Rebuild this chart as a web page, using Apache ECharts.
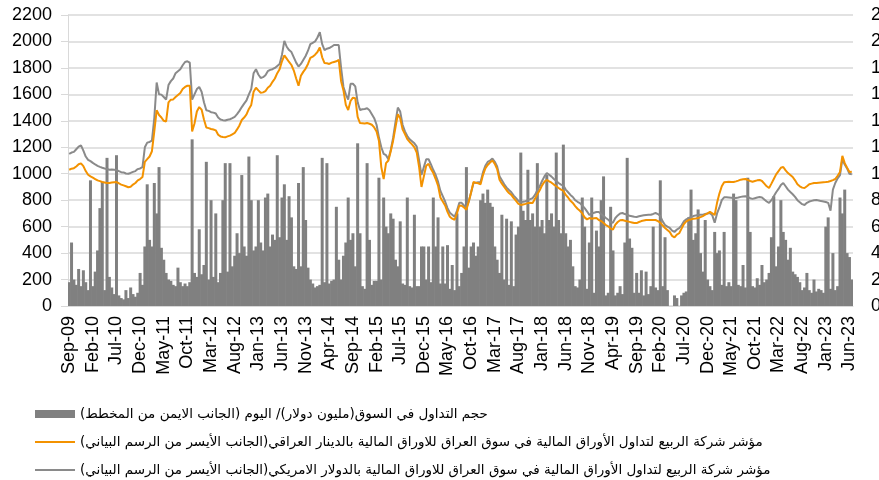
<!DOCTYPE html>
<html>
<head>
<meta charset="utf-8">
<script src="https://cdn.jsdelivr.net/npm/echarts@6/dist/echarts.min.js"></script>
<style>
  html, body { margin: 0; padding: 0; background: #fff; }
  #chart { width: 879px; height: 480px; }
</style>
</head>
<body>
<div id="chart"></div>
<script>
// month labels Sep-09 .. Jun-23, two points per month (semi-monthly)
var monthNames = ['Jan', 'Feb', 'Mar', 'Apr', 'May', 'Jun', 'Jul', 'Aug', 'Sep', 'Oct', 'Nov', 'Dec'];
var firstMonth = { year: 2009, month: 8 };   // Sep-09
var monthCount = 166;                         // through Jun-23
var labelEvery = 5;                           // a label every 5 months

var volName = 'حجم التداول في السوق(مليون دولار)/ اليوم (الجانب الايمن من المخطط)';
var iqdName = 'مؤشر شركة الربيع لتداول الأوراق المالية في سوق العراق للاوراق المالية بالدينار العراقي(الجانب الأيسر من الرسم البياني)';
var usdName = 'مؤشر شركة الربيع لتداول الأوراق المالية في سوق العراق للاوراق المالية بالدولار الامريكي(الجانب الأيسر من الرسم البياني)';

var leftTicks = { min: 0, max: 2200, interval: 200 };
var rightTicks = { min: 0, max: 22, interval: 2 };

// index in USD (left axis)
var usdIndex = [
  1150,1160,1165,1185,1205,1215,1175,1130,1105,1095,
  1082,1070,1060,1052,1045,1040,1036,1030,1032,1030,
  1028,1020,1012,1010,1002,1000,1006,1014,1020,1035,
  1040,1050,1200,1235,1240,1250,1420,1690,1600,1598,
  1580,1560,1670,1700,1720,1760,1775,1790,1820,1845,
  1850,1840,1560,1600,1640,1656,1620,1540,1480,1475,
  1465,1462,1455,1425,1410,1405,1402,1408,1412,1420,
  1430,1450,1475,1504,1530,1555,1600,1640,1760,1790,
  1750,1724,1730,1745,1775,1785,1790,1800,1815,1830,
  1900,2005,1960,1935,1920,1880,1840,1810,1830,1860,
  1890,1930,1980,1990,2000,2030,2070,1980,1935,1945,
  1950,1960,1973,1973,1973,1800,1656,1600,1560,1680,
  1680,1660,1540,1482,1488,1490,1495,1480,1450,1420,
  1370,1275,1200,1150,1140,1110,1180,1270,1390,1500,
  1470,1370,1320,1285,1260,1245,1230,1205,1100,990,
  1050,1110,1110,1070,1028,990,940,870,830,790,
  740,705,690,675,720,780,780,760,745,790,
  860,930,932,935,937,1010,1060,1089,1100,1115,
  1090,1055,980,950,920,895,877,860,835,815,
  795,786,788,792,800,808,816,840,875,905,
  945,980,1005,992,978,960,945,930,918,910,
  880,860,840,824,800,788,778,760,740,715,
  688,698,705,711,711,695,680,665,652,635,
  630,665,685,700,703,695,690,682,678,674,
  673,678,682,686,688,689,690,696,703,695,
  680,640,612,600,590,570,560,578,588,610,
  640,655,665,672,680,685,688,689,690,695,
  700,703,685,630,700,745,800,822,822,820,
  818,816,817,820,825,828,830,824,815,810,
  815,820,824,820,805,790,779,800,830,860,
  885,915,930,905,880,862,845,825,800,785,
  770,764,780,790,795,800,801,798,793,790,
  786,780,720,880,930,965,990,1110,1070,1040,
  1000,995
];

// index in IQD (left axis)
var iqdIndex = [
  1030,1038,1042,1055,1072,1078,1058,1020,992,980,
  970,960,950,944,938,934,930,930,934,936,
  937,928,918,912,905,898,902,918,930,950,
  960,975,1090,1110,1130,1170,1320,1480,1444,1425,
  1400,1395,1540,1560,1562,1580,1595,1610,1640,1656,
  1665,1665,1320,1380,1470,1504,1485,1410,1350,1345,
  1338,1334,1328,1295,1282,1278,1275,1282,1288,1298,
  1308,1335,1365,1406,1425,1448,1490,1520,1620,1650,
  1630,1612,1615,1625,1650,1665,1695,1720,1760,1790,
  1850,1895,1870,1845,1822,1780,1720,1665,1740,1770,
  1795,1830,1875,1885,1900,1920,1955,1880,1837,1835,
  1830,1840,1845,1850,1860,1700,1630,1520,1482,1550,
  1575,1570,1430,1383,1382,1380,1383,1378,1370,1350,
  1320,1250,1050,960,1080,1100,1170,1250,1350,1450,
  1420,1335,1300,1262,1240,1222,1200,1160,1050,900,
  980,1060,1075,1035,1005,960,910,820,790,760,
  712,675,660,652,700,760,758,745,728,790,
  860,937,932,928,920,990,1040,1066,1085,1100,
  1075,1035,955,925,900,875,854,840,815,795,
  772,764,768,772,778,780,779,810,845,875,
  912,940,953,942,932,918,905,892,880,872,
  840,820,795,779,755,735,720,700,670,655,
  665,660,663,665,650,642,628,612,602,585,
  578,615,635,648,650,645,640,636,632,628,
  627,635,642,646,650,650,650,650,650,642,
  630,608,590,575,560,530,518,540,550,585,
  620,640,650,655,660,662,665,672,680,690,
  700,711,700,688,780,850,905,935,938,940,
  938,937,942,948,955,958,960,953,945,940,
  945,950,953,945,925,905,892,925,960,995,
  1020,1045,1051,1025,1005,990,975,950,920,905,
  895,892,905,920,925,930,930,932,934,936,
  937,940,945,952,960,985,1013,1135,1080,1045,
  1013,1015
];

// daily traded value, million USD (right axis)
var volume = [
  1.8,4.8,2.0,1.6,2.8,1.5,2.7,1.8,1.2,9.5,
  1.5,2.6,4.2,7.4,9.4,1.2,11.2,2.2,1.4,0.9,
  11.4,0.8,0.6,0.5,1.2,0.6,1.4,0.9,0.7,1.0,
  2.5,1.6,4.5,9.2,5.0,4.5,9.3,7.0,10.5,4.4,
  3.5,2.5,2.0,1.9,1.6,1.5,2.9,1.8,1.5,1.7,
  1.5,1.8,12.6,2.5,2.2,5.8,2.4,3.1,10.9,2.0,
  8.0,2.2,7.0,1.8,2.5,8.0,10.8,2.6,10.8,3.0,
  3.8,5.5,4.0,9.9,4.5,3.8,11.3,8.0,4.2,4.5,
  8.0,4.8,4.2,8.2,8.5,4.5,5.4,5.0,11.4,5.2,
  8.2,9.2,5.0,8.3,6.7,3.0,2.8,9.3,3.0,10.5,
  6.5,2.9,2.0,1.7,1.4,1.5,1.6,11.2,1.8,10.8,
  1.7,1.9,2.0,7.5,3.5,2.0,3.8,4.8,8.2,5.0,
  5.5,3.0,12.3,5.5,1.5,1.3,10.8,5.0,1.6,1.9,
  1.9,9.7,2.0,8.2,6.0,5.5,7.0,6.6,3.5,3.0,
  6.4,1.7,1.6,8.2,1.5,1.4,6.9,1.5,1.5,4.5,
  4.5,2.0,4.5,1.8,8.2,4.5,6.7,1.7,4.5,1.7,
  4.6,1.3,3.1,1.2,7.0,1.5,2.5,4.5,10.5,2.9,
  4.5,4.8,3.8,4.5,8.0,8.5,7.8,8.8,7.8,7.5,
  4.5,3.5,2.5,6.9,2.0,6.6,1.6,6.4,1.5,5.4,
  6.0,11.6,7.2,6.5,10.3,6.5,7.0,6.0,10.8,6.0,
  6.5,5.5,9.9,6.5,7.0,6.0,11.6,6.5,5.5,12.2,
  5.5,4.5,5.0,3.0,1.5,1.4,2.0,8.2,6.0,1.3,
  4.8,8.2,1.0,5.7,4.5,8.0,9.8,0.8,1.0,7.5,
  4.2,0.8,1.0,1.5,0.9,4.8,11.2,5.1,4.4,1.0,
  2.5,1.0,2.7,0.8,2.6,0.9,1.5,6.0,1.4,1.2,
  9.5,1.5,5.2,1.2,null,null,0.8,0.6,null,0.8,
  1.0,1.1,6.7,8.8,5.0,5.5,7.3,4.0,2.6,6.5,
  2.0,1.5,1.2,5.6,4.0,4.2,1.6,5.6,1.5,1.8,
  1.5,8.5,8.0,1.6,1.5,3.1,1.4,9.7,5.6,1.5,
  1.4,2.1,1.6,3.1,1.8,2.0,2.5,5.2,8.3,3.0,
  4.5,8.0,5.6,5.0,3.5,4.4,2.6,2.4,2.2,1.8,
  1.2,1.4,2.5,1.2,1.0,2.0,1.1,1.3,1.2,1.0,
  6.0,6.7,1.3,4.0,1.2,1.5,8.2,7.0,8.8,4.0,
  3.7,2.0
];

var months = [];
for (var k = 0; k < monthCount; k++) {
  var mi = (firstMonth.month + k) % 12;
  var yr = firstMonth.year + Math.floor((firstMonth.month + k) / 12);
  months.push(monthNames[mi] + '-' + String(yr % 100).padStart(2, '0'));
}
var periods = [];
months.forEach(function (m) { periods.push(m + '|a'); periods.push(m + '|b'); });

// bidi wrapper so the Arabic legend text is laid out right-to-left
function rtl(s) { return '\u202B' + s + '\u202C'; }

// thin bar inside a 40x8 box, used as legend icon for the two lines
var lineIcon = 'path://M0,0 M40,8 M0,3 L40,3 L40,5 L0,5 Z';

var chart = echarts.init(document.getElementById('chart'));
var axisFont = 'Liberation Sans, Arial, sans-serif';

var option = {
  animation: false,
  backgroundColor: '#ffffff',
  grid: { left: 68, right: 26, top: 15, bottom: 174, containLabel: false, outerBoundsMode: 'none' },
  legend: {
    orient: 'vertical',
    left: 30,
    top: 401,
    itemWidth: 40,
    itemHeight: 8,
    itemGap: 12,
    height: 79,
    symbolKeepAspect: true,
    textStyle: { fontFamily: 'DejaVu Sans, sans-serif', fontSize: 13.5, color: '#000', lineHeight: 16 },
    formatter: function (name) { return rtl(name); },
    data: [
      { name: volName, icon: 'rect' },
      { name: iqdName, icon: lineIcon },
      { name: usdName, icon: lineIcon }
    ]
  },
  xAxis: {
    type: 'category',
    data: periods,
    axisLine: { show: true, lineStyle: { color: '#d9d9d9' } },
    axisTick: { show: false },
    axisLabel: {
      rotate: 90,
      margin: 10,
      fontSize: 18,
      fontFamily: axisFont,
      color: '#000',
      interval: function (idx) { return idx % (labelEvery * 2) === 0; },
      formatter: function (v) { return v.split('|')[0]; }
    },
    splitLine: { show: false }
  },
  yAxis: [
    {
      type: 'value',
      min: leftTicks.min, max: leftTicks.max, interval: leftTicks.interval,
      axisLine: { show: true, lineStyle: { color: '#d9d9d9' } },
      axisTick: { show: true, length: 7, lineStyle: { color: '#d9d9d9' } },
      axisLabel: {
        margin: 16, fontSize: 18, fontFamily: axisFont, color: '#000',
        formatter: function (v) { return String(v); }
      },
      splitLine: { show: true, lineStyle: { color: '#d9d9d9', width: 1.5 } }
    },
    {
      type: 'value',
      position: 'right',
      min: rightTicks.min, max: rightTicks.max, interval: rightTicks.interval,
      axisLine: { show: false },
      axisTick: { show: false },
      axisLabel: {
        margin: 18, fontSize: 18, fontFamily: axisFont, color: '#000',
        formatter: function (v) { return String(v); }
      },
      splitLine: { show: false }
    }
  ],
  series: [
    {
      name: volName,
      type: 'bar',
      yAxisIndex: 1,
      data: volume,
      barWidth: 3,
      itemStyle: { color: '#808080' },
      z: 1
    },
    {
      name: usdName,
      type: 'line',
      yAxisIndex: 0,
      data: usdIndex,
      symbol: 'none',
      lineStyle: { color: '#8a8a8a', width: 2 },
      itemStyle: { color: '#8a8a8a' },
      z: 2
    },
    {
      name: iqdName,
      type: 'line',
      yAxisIndex: 0,
      data: iqdIndex,
      symbol: 'none',
      lineStyle: { color: '#f39200', width: 2 },
      itemStyle: { color: '#f39200' },
      z: 3
    }
  ]
};

chart.setOption(option);
</script>
</body>
</html>
